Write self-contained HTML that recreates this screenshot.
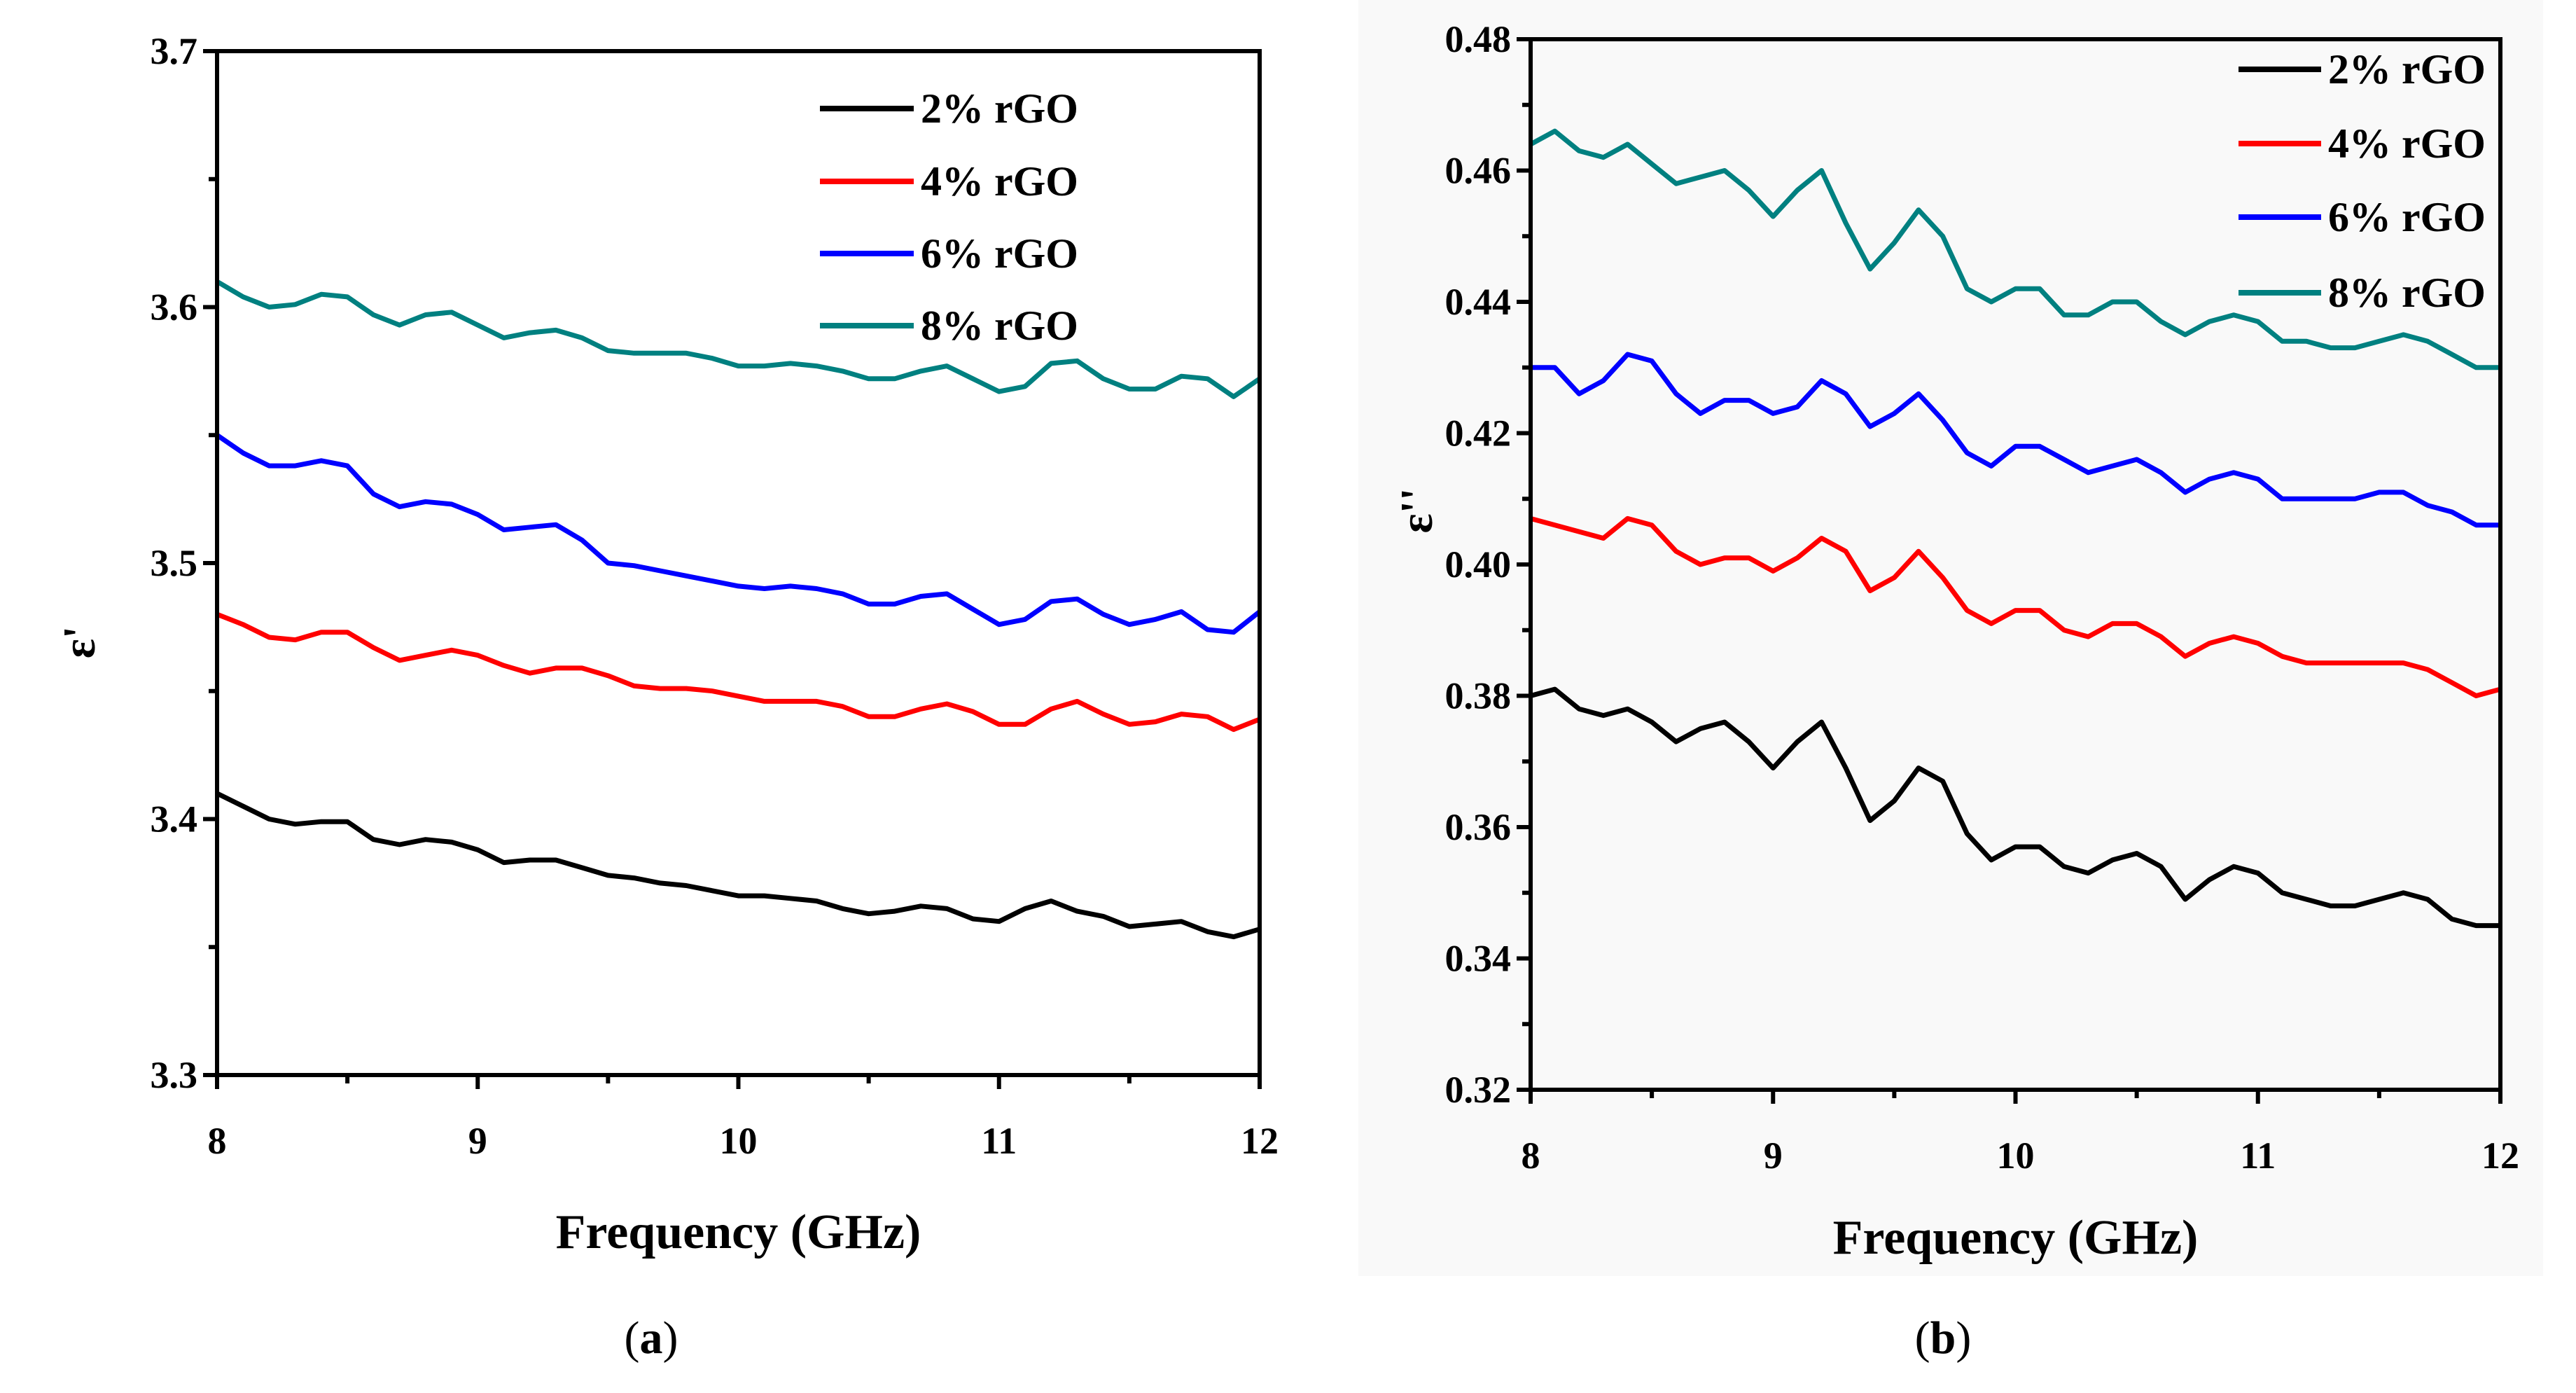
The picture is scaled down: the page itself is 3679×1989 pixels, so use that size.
<!DOCTYPE html>
<html><head><meta charset="utf-8"><style>
html,body{margin:0;padding:0;background:#fff;}
svg{display:block;font-family:"Liberation Serif",serif;font-weight:bold;}
</style></head><body>
<svg id="fig" width="3679" height="1989" viewBox="0 0 3679 1989" xmlns="http://www.w3.org/2000/svg">
<rect x="1940" y="0" width="1692" height="1822" fill="#f9f9f9"/>
<g id="pa"></g>
<g id="pb"></g>
<text x="930" y="1932" font-size="66" font-weight="normal" text-anchor="middle">(<tspan font-weight="bold">a</tspan>)</text>
<text x="2775" y="1932" font-size="66" font-weight="normal" text-anchor="middle">(<tspan font-weight="bold">b</tspan>)</text>
</svg>
<script>
const freqs = [8.0,8.1,8.2,8.3,8.4,8.5,8.6,8.7,8.8,8.9,9.0,9.1,9.2,9.3,9.4,9.5,9.6,9.7,9.8,9.9,10.0,10.1,10.2,10.3,10.4,10.5,10.6,10.7,10.8,10.9,11.0,11.1,11.2,11.3,11.4,11.5,11.6,11.7,11.8,11.9,12.0];
const seriesNames = ["2% rGO","4% rGO","6% rGO","8% rGO"];
const seriesColors = ["#000000","#ff0000","#0000ff","#008080"];
const a2 = [3.410,3.405,3.400,3.398,3.399,3.399,3.392,3.390,3.392,3.391,3.388,3.383,3.384,3.384,3.381,3.378,3.377,3.375,3.374,3.372,3.370,3.370,3.369,3.368,3.365,3.363,3.364,3.366,3.365,3.361,3.360,3.365,3.368,3.364,3.362,3.358,3.359,3.360,3.356,3.354,3.357];
const a4 = [3.480,3.476,3.471,3.470,3.473,3.473,3.467,3.462,3.464,3.466,3.464,3.460,3.457,3.459,3.459,3.456,3.452,3.451,3.451,3.450,3.448,3.446,3.446,3.446,3.444,3.440,3.440,3.443,3.445,3.442,3.437,3.437,3.443,3.446,3.441,3.437,3.438,3.441,3.440,3.435,3.439];
const a6 = [3.550,3.543,3.538,3.538,3.540,3.538,3.527,3.522,3.524,3.523,3.519,3.513,3.514,3.515,3.509,3.500,3.499,3.497,3.495,3.493,3.491,3.490,3.491,3.490,3.488,3.484,3.484,3.487,3.488,3.482,3.476,3.478,3.485,3.486,3.480,3.476,3.478,3.481,3.474,3.473,3.481];
const a8 = [3.610,3.604,3.600,3.601,3.605,3.604,3.597,3.593,3.597,3.598,3.593,3.588,3.590,3.591,3.588,3.583,3.582,3.582,3.582,3.580,3.577,3.577,3.578,3.577,3.575,3.572,3.572,3.575,3.577,3.572,3.567,3.569,3.578,3.579,3.572,3.568,3.568,3.573,3.572,3.565,3.572];
const b2 = [0.380,0.381,0.378,0.377,0.378,0.376,0.373,0.375,0.376,0.373,0.369,0.373,0.376,0.369,0.361,0.364,0.369,0.367,0.359,0.355,0.357,0.357,0.354,0.353,0.355,0.356,0.354,0.349,0.352,0.354,0.353,0.350,0.349,0.348,0.348,0.349,0.350,0.349,0.346,0.345,0.345];
const b4 = [0.407,0.406,0.405,0.404,0.407,0.406,0.402,0.400,0.401,0.401,0.399,0.401,0.404,0.402,0.396,0.398,0.402,0.398,0.393,0.391,0.393,0.393,0.390,0.389,0.391,0.391,0.389,0.386,0.388,0.389,0.388,0.386,0.385,0.385,0.385,0.385,0.385,0.384,0.382,0.380,0.381];
const b6 = [0.430,0.430,0.426,0.428,0.432,0.431,0.426,0.423,0.425,0.425,0.423,0.424,0.428,0.426,0.421,0.423,0.426,0.422,0.417,0.415,0.418,0.418,0.416,0.414,0.415,0.416,0.414,0.411,0.413,0.414,0.413,0.410,0.410,0.410,0.410,0.411,0.411,0.409,0.408,0.406,0.406];
const b8 = [0.464,0.466,0.463,0.462,0.464,0.461,0.458,0.459,0.460,0.457,0.453,0.457,0.460,0.452,0.445,0.449,0.454,0.450,0.442,0.440,0.442,0.442,0.438,0.438,0.440,0.440,0.437,0.435,0.437,0.438,0.437,0.434,0.434,0.433,0.433,0.434,0.435,0.434,0.432,0.430,0.430];
const xTicks = [8,9,10,11,12];
const aYTicks = ["3.3","3.4","3.5","3.6","3.7"];
const bYTicks = ["0.32","0.34","0.36","0.38","0.40","0.42","0.44","0.46","0.48"];

const NS="http://www.w3.org/2000/svg";
function mk(parent,tag,attrs){const e=document.createElementNS(NS,tag);for(const k in attrs)e.setAttribute(k,attrs[k]);parent.appendChild(e);return e;}

function panel(g,cfg){
  const sx=v=>cfg.x0+(v-8)/4*(cfg.x1-cfg.x0);
  const sy=v=>cfg.y1-(v-cfg.ymin)/(cfg.ymax-cfg.ymin)*(cfg.y1-cfg.y0);
  cfg.data.forEach((arr,i)=>{
    const d=arr.map((v,j)=>(j?'L':'M')+sx(freqs[j]).toFixed(1)+','+sy(v).toFixed(1)).join(' ');
    const p=mk(g,'path',{d:d,fill:'none',stroke:seriesColors[i],'stroke-width':7,'stroke-linejoin':'round'});
    
    
  });
  const fr=mk(g,'rect',{x:cfg.x0,y:cfg.y0,width:cfg.x1-cfg.x0,height:cfg.y1-cfg.y0,fill:'none',stroke:'#000','stroke-width':6});
  
  
  xTicks.forEach(t=>{
    mk(g,'line',{x1:sx(t),x2:sx(t),y1:cfg.y1,y2:cfg.y1+20,stroke:'#000','stroke-width':6});
    if(t<12) mk(g,'line',{x1:sx(t+0.5),x2:sx(t+0.5),y1:cfg.y1,y2:cfg.y1+12,stroke:'#000','stroke-width':6});
    const tx=mk(g,'text',{x:sx(t),y:cfg.y1+112,'font-size':54,'text-anchor':'middle'});
    tx.textContent=t;
    
    
  });
  cfg.yt.forEach((s,i)=>{
    const v=parseFloat(s);
    mk(g,'line',{x1:cfg.x0-20,x2:cfg.x0,y1:sy(v),y2:sy(v),stroke:'#000','stroke-width':6});
    if(i<cfg.yt.length-1){const m=(v+parseFloat(cfg.yt[i+1]))/2;mk(g,'line',{x1:cfg.x0-12,x2:cfg.x0,y1:sy(m),y2:sy(m),stroke:'#000','stroke-width':6});}
    const tx=mk(g,'text',{x:cfg.x0-28,y:sy(v)+18,'font-size':54,'text-anchor':'end'});
    tx.textContent=s;
    
    
  });
  const xt=mk(g,'text',{x:(cfg.x0+cfg.x1)/2,y:cfg.xtY,'font-size':70,'text-anchor':'middle'});
  xt.textContent='Frequency (GHz)';
  
  
  const yt=mk(g,'text',{x:0,y:0,'font-size':66,'text-anchor':'middle',transform:'translate('+cfg.ytX+','+cfg.ytY+') rotate(-90)'});
  yt.textContent=cfg.ylab;
  
  
  seriesNames.forEach((n,i)=>{
    const y=cfg.legY[i];
    const l=mk(g,'line',{x1:cfg.legX0,x2:cfg.legX1,y1:y,y2:y,stroke:seriesColors[i],'stroke-width':8});
    
    
    const t=mk(g,'text',{x:cfg.legX1+10,y:y+20,'font-size':60});
    t.textContent=n;
    
    
  });
}
panel(document.getElementById('pa'),{id:'panel-a',x0:310,x1:1799,y0:73,y1:1535,ymin:3.3,ymax:3.7,yt:aYTicks,data:[a2,a4,a6,a8],xtY:1782,ytX:135,ytY:917,ylab:"ε'",legX0:1171,legX1:1305,legY:[155,259,362,465]});
panel(document.getElementById('pb'),{id:'panel-b',x0:2186,x1:3571,y0:56,y1:1556,ymin:0.32,ymax:0.48,yt:bYTicks,data:[b2,b4,b6,b8],xtY:1790,ytX:2045,ytY:729,ylab:"ε''",legX0:3197,legX1:3315,legY:[99,205,310,418]});
</script>
</body></html>
